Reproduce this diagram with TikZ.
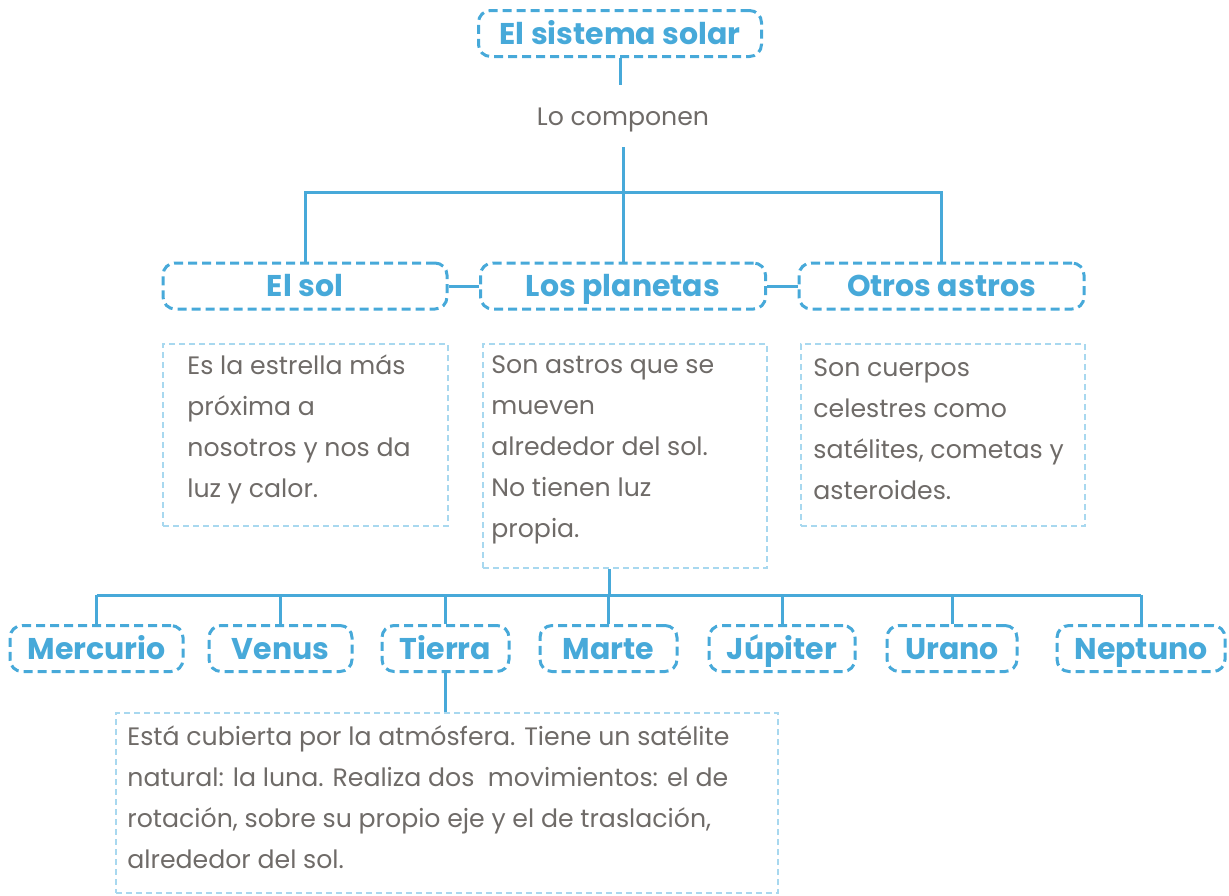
\documentclass[tikz,border=0pt]{standalone}
\usepackage{fontspec}
\setmainfont{Poppins}
\usepackage{tikz}
\usetikzlibrary{positioning}
\definecolor{skyline}{HTML}{47A9D9}
\definecolor{skypale}{HTML}{A8D8EF}
\definecolor{inkgray}{HTML}{6F6B68}

\begin{document}
\begin{tikzpicture}[x=0.5pt, y=-0.5pt,
  topic/.style={draw=skyline, line width=1.5pt, dash pattern=on 4.5pt off 2.5pt, rounded corners=6pt,
    text=skyline, font=\bfseries\fontsize{15}{18}\selectfont, text height=11pt, text depth=0.5pt,
    minimum height=23pt, inner sep=0pt},
  descbox/.style={draw=skypale, line width=1pt, dash pattern=on 3pt off 2pt, inner sep=0pt, anchor=north west},
  desctext/.style={anchor=west, align=left, inner sep=0pt, yshift=3pt, text=inkgray, font=\fontsize{12.6}{20.5}\selectfont},
  link/.style={draw=skyline, line width=1.5pt}]
  \useasboundingbox (0,0) rectangle (1229,895);

  % top of the tree
  \node[topic, minimum width=141.5pt] (title) at (620,33.5) {El sistema solar};
  \node[text=inkgray, font=\fontsize{12.6}{15}\selectfont, text height=9pt, text depth=0pt,
    minimum height=31pt, inner sep=0pt] (compose) at (623,116) {Lo componen};

  \node[topic, minimum width=142pt] (sol) at (305,286) {El sol};
  \node[topic, minimum width=142.5pt] (planetas) at (623,286) {Los planetas};
  \node[topic, minimum width=142.5pt] (otros) at (941.5,286) {Otros astros};
  \coordinate (hub) at (623,192);

  % descriptions
  \node[descbox, minimum width=142.5pt, minimum height=91pt] (solbox) at (162,343) {};
  \node[desctext, xshift=12.5pt] (soltxt) at (solbox.west) {Es la estrella más\\próxima a\\nosotros y nos da\\luz y calor.};
  \node[descbox, minimum width=142pt, minimum height=112pt] (planetbox) at (482,343) {};
  \node[desctext, xshift=4.5pt] (planettxt) at (planetbox.west) {Son astros que se\\mueven\\alrededor del sol.\\No tienen luz\\propia.};
  \node[descbox, minimum width=142pt, minimum height=91pt] (otrosbox) at (800,343) {};
  \node[desctext, xshift=6.5pt] (otrostxt) at (otrosbox.west) {Son cuerpos\\celestres como\\satélites, cometas y\\asteroides.};

  % planets
  \coordinate (bus) at (609,595);
  \foreach \lbl/\cx/\bw [count=\i] in {Mercurio/96.5/86.5, Venus/280.5/71.5, Tierra/445.5/63.5,
      Marte/608.5/68.5, Júpiter/782/73, Urano/952/65, Neptuno/1141/84}
    \node[topic, minimum width=\bw pt] (p\i) at (\cx,648.5) {\lbl};

  \node[descbox, minimum width=331pt, minimum height=90pt] (tierrabox) at (115,712) {};
  \node[desctext, xshift=6pt] (tierratxt) at (tierrabox.west) {Está cubierta por la atmósfera. Tiene un satélite\\natural: la luna. Realiza dos\ \ movimientos: el de\\rotación, sobre su propio eje y el de traslación,\\alrededor del sol.};

  % connectors
  \draw[link] (title.south) -- (title.south |- compose.north);
  \draw[link] (compose.south) -- (hub);
  \draw[link] (sol.north) |- (hub) -| (otros.north);
  \draw[link] (planetas.north) -- (hub);
  \draw[link] (sol) -- (planetas);
  \draw[link] (planetas) -- (otros);
  \draw[link] (bus |- planetbox.south) -- (bus);
  \draw[link] (p1.north |- bus) -- (p7.north |- bus);
  \foreach \i in {1,...,7}
    \draw[link] (p\i.north) -- (p\i.north |- bus);
  \draw[link] (p3.south) -- (p3.south |- tierrabox.north);
\end{tikzpicture}
\end{document}
